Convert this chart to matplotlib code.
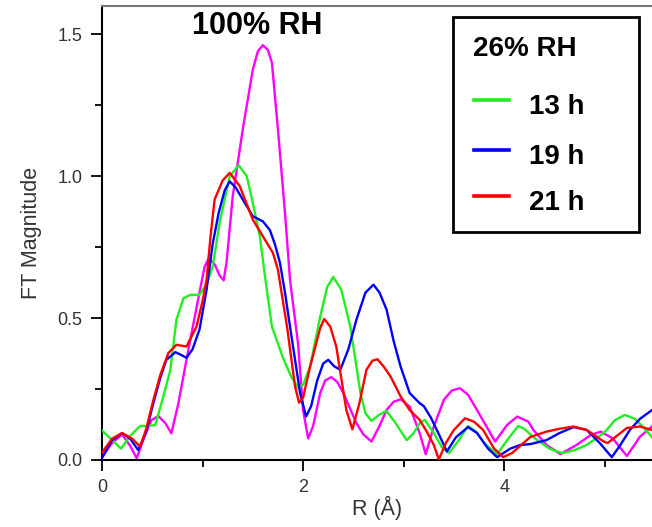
import matplotlib
matplotlib.use("Agg")
import matplotlib.pyplot as plt
from matplotlib.lines import Line2D
from matplotlib.patches import Rectangle

plt.rcParams['font.family'] = ['Liberation Sans', 'DejaVu Sans']

# ---- data ----
green_x = [0.00, 0.10, 0.19, 0.28, 0.38, 0.44, 0.53, 0.61, 0.68, 0.74, 0.81, 0.88, 0.97, 1.04, 1.10,
           1.17, 1.27, 1.36, 1.44, 1.50, 1.57, 1.62, 1.69, 1.80, 1.88, 1.95, 2.00, 2.07, 2.17, 2.24,
           2.30, 2.38, 2.47, 2.57, 2.62, 2.68, 2.76, 2.83, 2.92, 3.03, 3.10, 3.16, 3.21, 3.30, 3.38,
           3.45, 3.55, 3.64, 3.72, 3.80, 3.93, 4.03, 4.14, 4.20, 4.29, 4.45, 4.58, 4.70, 4.82, 4.95,
           5.02, 5.10, 5.20, 5.30, 5.38, 5.47]
green_y = [0.104, 0.070, 0.040, 0.085, 0.120, 0.120, 0.123, 0.224, 0.318, 0.494, 0.570, 0.582, 0.582, 0.620, 0.680,
           0.836, 1.000, 1.039, 1.000, 0.906, 0.788, 0.650, 0.470, 0.360, 0.295, 0.255, 0.265, 0.330, 0.505, 0.610,
           0.645, 0.600, 0.470, 0.236, 0.165, 0.138, 0.160, 0.173, 0.130, 0.070, 0.095, 0.130, 0.141, 0.095, 0.045,
           0.024, 0.070, 0.120, 0.100, 0.060, 0.020, 0.070, 0.120, 0.110, 0.080, 0.040, 0.024, 0.035, 0.053, 0.085,
           0.106, 0.140, 0.159, 0.145, 0.117, 0.080]

blue_x = [0.00, 0.10, 0.20, 0.28, 0.36, 0.44, 0.51, 0.58, 0.64, 0.73, 0.80, 0.84, 0.90, 0.97, 1.04,
          1.10, 1.16, 1.22, 1.27, 1.33, 1.40, 1.50, 1.60, 1.67, 1.72, 1.77, 1.82, 1.87, 1.97, 2.03,
          2.08, 2.14, 2.20, 2.25, 2.31, 2.37, 2.45, 2.53, 2.62, 2.70, 2.76, 2.83, 2.90, 2.97, 3.06,
          3.16, 3.20, 3.27, 3.33, 3.43, 3.52, 3.64, 3.73, 3.84, 3.93, 4.06, 4.16, 4.26, 4.42, 4.55,
          4.69, 4.82, 4.95, 5.07, 5.15, 5.25, 5.35, 5.47]
blue_y = [0.007, 0.070, 0.095, 0.075, 0.035, 0.100, 0.200, 0.290, 0.353, 0.380, 0.368, 0.360, 0.390, 0.460, 0.600,
          0.760, 0.870, 0.950, 0.982, 0.960, 0.918, 0.859, 0.841, 0.810, 0.760, 0.695, 0.590, 0.470, 0.236, 0.153,
          0.190, 0.280, 0.340, 0.353, 0.330, 0.318, 0.390, 0.494, 0.590, 0.618, 0.590, 0.530, 0.420, 0.329, 0.236,
          0.200, 0.190, 0.150, 0.106, 0.030, 0.080, 0.116, 0.095, 0.040, 0.010, 0.040, 0.053, 0.056, 0.070, 0.095,
          0.116, 0.106, 0.060, 0.010, 0.050, 0.106, 0.145, 0.176]

red_x = [0.00, 0.10, 0.20, 0.30, 0.38, 0.44, 0.51, 0.58, 0.66, 0.74, 0.84, 0.94, 1.00, 1.04, 1.08,
         1.12, 1.20, 1.27, 1.37, 1.50, 1.64, 1.70, 1.75, 1.84, 1.92, 1.96, 2.00, 2.07, 2.17, 2.21,
         2.27, 2.33, 2.43, 2.49, 2.56, 2.63, 2.69, 2.74, 2.80, 2.87, 2.97, 3.06, 3.16, 3.23, 3.30,
         3.35, 3.42, 3.50, 3.61, 3.70, 3.79, 3.90, 3.99, 4.08, 4.16, 4.26, 4.42, 4.55, 4.69, 4.82,
         4.99, 5.03, 5.12, 5.22, 5.35, 5.47]
red_y = [0.026, 0.075, 0.095, 0.075, 0.047, 0.110, 0.210, 0.300, 0.377, 0.406, 0.400, 0.470, 0.560, 0.635, 0.790,
         0.918, 0.985, 1.012, 0.965, 0.847, 0.765, 0.730, 0.670, 0.470, 0.259, 0.202, 0.220, 0.329, 0.465, 0.497,
         0.470, 0.400, 0.176, 0.108, 0.200, 0.318, 0.350, 0.355, 0.330, 0.294, 0.224, 0.176, 0.141, 0.100, 0.053,
         0.002, 0.060, 0.106, 0.147, 0.135, 0.106, 0.040, 0.010, 0.025, 0.050, 0.081, 0.100, 0.110, 0.118, 0.106,
         0.065, 0.060, 0.085, 0.113, 0.118, 0.106]

magenta_x = [0.00, 0.10, 0.20, 0.28, 0.345, 0.42, 0.49, 0.56, 0.63, 0.69, 0.76, 0.84, 0.92, 0.975, 1.02,
             1.06, 1.12, 1.17, 1.21, 1.24, 1.30, 1.40, 1.50, 1.55, 1.60, 1.65, 1.69, 1.75, 1.82, 1.87,
             1.95, 2.00, 2.05, 2.10, 2.17, 2.22, 2.28, 2.34, 2.40, 2.53, 2.60, 2.68, 2.76, 2.83, 2.90,
             2.97, 3.06, 3.16, 3.22, 3.30, 3.40, 3.48, 3.56, 3.64, 3.73, 3.91, 4.03, 4.13, 4.24, 4.29,
             4.42, 4.56, 4.72, 4.86, 4.96, 5.08, 5.22, 5.35, 5.47]
magenta_y = [0.010, 0.060, 0.090, 0.050, 0.006, 0.080, 0.140, 0.155, 0.130, 0.094, 0.200, 0.353, 0.500, 0.600, 0.680,
             0.710, 0.690, 0.650, 0.633, 0.700, 0.929, 1.165, 1.376, 1.440, 1.462, 1.445, 1.400, 1.165, 0.870, 0.635,
             0.410, 0.176, 0.076, 0.120, 0.236, 0.280, 0.292, 0.275, 0.236, 0.130, 0.090, 0.065, 0.120, 0.176, 0.205,
             0.214, 0.188, 0.094, 0.020, 0.118, 0.212, 0.245, 0.253, 0.230, 0.176, 0.065, 0.124, 0.153, 0.135, 0.106,
             0.053, 0.021, 0.053, 0.088, 0.100, 0.076, 0.014, 0.082, 0.118]

legend_title = "26% RH"
legend_labels = ["13 h", "19 h", "21 h"]
legend_colors = ['#22ee22', '#0000ff', '#ff0000']
annotation = "100% RH"
x_ticks = [0, 2, 4]
y_ticks = [0.0, 0.5, 1.0, 1.5]

# ---- figure ----
W, H = 652, 527
fig = plt.figure(figsize=(W / 100, H / 100), dpi=100)
ax = fig.add_axes([102 / W, (H - 460) / H, 1 - 102 / W, (460 - 6) / H])

lw = 1.7
ax.plot(magenta_x, magenta_y, color='#ff00ff', lw=lw, zorder=2)
ax.plot(green_x, green_y, color=legend_colors[0], lw=lw, zorder=3)
ax.plot(blue_x, blue_y, color=legend_colors[1], lw=lw, zorder=4)
ax.plot(red_x, red_y, color=legend_colors[2], lw=lw, zorder=5)

ax.set_xlim(0, 5.47)
ax.set_ylim(0, 1.6)
ax.set_xticks(x_ticks)
ax.set_yticks(y_ticks)
ax.set_xticks([1, 3, 5], minor=True)
ax.set_yticks([0.25, 0.75, 1.25], minor=True)
ax.set_yticklabels([f"{v:.1f}" for v in y_ticks])
ax.tick_params(axis='y', which='major', direction='out', length=8, width=1.3,
               labelsize=13, labelcolor='#333333', pad=6)
ax.tick_params(axis='x', which='major', direction='out', length=8, width=1.3,
               labelsize=13, labelcolor='#333333', pad=6)
ax.tick_params(axis='both', which='minor', direction='out', length=5, width=1.3)

for s in ['left', 'bottom']:
    ax.spines[s].set_linewidth(1.5)
    ax.spines[s].set_color('black')
ax.spines['top'].set_color('#777777')
ax.spines['top'].set_linewidth(1.5)
ax.spines['right'].set_visible(False)

ax.set_ylabel("FT Magnitude", fontsize=15.5, color='#333333')
ax.yaxis.set_label_coords((42 - 102) / 550, 0.5)
ax.set_xlabel("R (Å)", fontsize=15.5, color='#333333')
ax.xaxis.set_label_coords(0.5, (460 - 496) / 454)

ax.text(1.54, 1.528, annotation, fontsize=22, fontweight='bold', ha='center', va='center')

# ---- legend box (drawn in figure pixel coordinates) ----
def fx(px):
    return px / W

def fy(py):
    return 1 - py / H

fig.patches.append(Rectangle((fx(453), fy(232)), fx(639) - fx(453), fy(17) - fy(232),
                             transform=fig.transFigure, facecolor='white',
                             edgecolor='black', linewidth=2, zorder=10))
fig.text(fx(473), fy(49), legend_title, fontsize=20, fontweight='bold',
         ha='left', va='center', zorder=11)
for i, (lab, col) in enumerate(zip(legend_labels, legend_colors)):
    ly = [100, 150, 196][i]
    fig.lines.append(Line2D([fx(474), fx(509)], [fy(ly), fy(ly)], color=col, lw=2.6,
                            transform=fig.transFigure, zorder=11))
    fig.text(fx(529), fy(ly + 7), lab, fontsize=20, fontweight='bold',
             ha='left', va='center', zorder=11)

fig.savefig("out.png", dpi=100, facecolor='white')
